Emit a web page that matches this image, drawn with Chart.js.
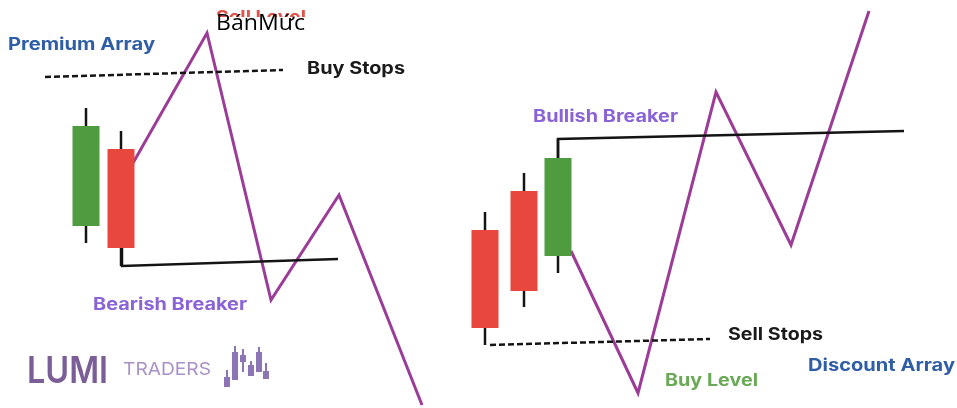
<!DOCTYPE html>
<html>
<head>
<meta charset="utf-8">
<script src="https://cdn.jsdelivr.net/npm/chart.js@4.4.0/dist/chart.umd.min.js"></script>
<style>
  html, body { margin: 0; padding: 0; background: #fff; }
  #chart { display: block; }
</style>
</head>
<body>
<canvas id="chart" width="957" height="408"></canvas>
<script>
// price path (x = time step, y = price)
const bearishPathX = [133, 207, 271, 339, 422];
const bearishPathY = [245, 375, 108, 213, 3];
const bullishPathX = [571, 638, 716, 791, 869];
const bullishPathY = [157, 15, 316, 163, 397];

// candles: x, open, high, low, close
const leftCandleX = [86, 121];
const leftOpen = [182, 259];
const leftHigh = [300, 277];
const leftLow = [165, 142];
const leftClose = [282, 160];

const rightCandleX = [485, 524, 558];
const rightOpen = [178, 217, 152];
const rightHigh = [196, 235, 269];
const rightLow = [63, 101, 135];
const rightClose = [80, 117, 250];

// breaker levels and stop levels
const bearishBreakerX = [122, 122, 338];
const bearishBreakerY = [160, 142, 149];
const bullishBreakerX = [558, 558, 904];
const bullishBreakerY = [250, 269, 277];
const buyStopsX = [45, 283];
const buyStopsY = [331, 338];
const sellStopsX = [490, 710];
const sellStopsY = [63, 69];

// logo candles
const logoX = [227, 235, 243, 251, 259, 266];
const logoOpen = [31, 56, 53, 43, 56, 37];
const logoHigh = [38, 62, 59, 47, 61, 45];
const logoLow = [21, 28, 36, 32, 36, 29];
const logoClose = [21, 28, 46, 32, 36, 29];

const PURPLE = '#9b3c97';
const GREEN = '#4f9b3f';
const RED = '#e8473d';
const LINE = '#141414';

function pts(xs, ys) { return xs.map((x, i) => ({ x: x, y: ys[i] })); }

function line(xs, ys, color, width, dash) {
  return {
    data: pts(xs, ys), borderColor: color, borderWidth: width,
    borderDash: dash || [], pointRadius: 0, tension: 0, fill: false,
    borderCapStyle: 'butt', borderJoinStyle: 'miter'
  };
}

function candleSets(xs, open, high, low, close, bodyW, wickW, wickColor, upColor, downColor, colorFor) {
  const sets = [];
  xs.forEach((x, i) => {
    const top = Math.max(open[i], close[i]);
    const bot = Math.min(open[i], close[i]);
    const col = colorFor ? colorFor : (close[i] >= open[i] ? upColor : downColor);
    if (high[i] > top) sets.push(line([x, x], [top, high[i]], wickColor, wickW));
    if (low[i] < bot) sets.push(line([x, x], [low[i], bot], wickColor, wickW));
    if (top > bot) sets.push(line([x, x], [bot, top], col, bodyW));
  });
  return sets;
}

const datasets = [].concat(
  [line(buyStopsX, buyStopsY, LINE, 2.5, [6, 3])],
  [line(sellStopsX, sellStopsY, LINE, 2.5, [6, 3])],
  [line(bearishBreakerX, bearishBreakerY, LINE, 2.5)],
  [line(bullishBreakerX, bullishBreakerY, LINE, 2.5)],
  candleSets(leftCandleX, leftOpen, leftHigh, leftLow, leftClose, 27, 2.5, LINE, GREEN, RED),
  candleSets(rightCandleX, rightOpen, rightHigh, rightLow, rightClose, 27, 2.5, LINE, GREEN, RED),
  candleSets(logoX, logoOpen, logoHigh, logoLow, logoClose, 6, 2, '#8d74b4', null, null, '#8d74b4'),
  [line(bearishPathX, bearishPathY, PURPLE, 3)],
  [line(bullishPathX, bullishPathY, PURPLE, 3)]
);

// text labels: text, left x, centre y, width, font, colour
const labels = [
  ['Premium Array', 8, 363, 147, '700 17px Inter', '#2f5ea7'],
  ['Buy Stops', 307, 339, 98, '700 17px Inter', '#1a1a1a'],
  ['Bearish Breaker', 93, 103, 154, '700 17px Inter', '#8a63d6'],
  ['Bullish Breaker', 533, 291, 145, '700 17px Inter', '#8a63d6'],
  ['Sell Stops', 728, 73, 95, '700 17px Inter', '#1a1a1a'],
  ['Buy Level', 665, 27, 93, '700 17px Inter', '#6aa956'],
  ['Discount Array', 808, 42, 147, '700 17px Inter', '#2f5ea7'],
  ['LUMI', 27, 36, 81, '600 37px Inter', '#7b5d97'],
  ['TRADERS', 123, 38, 88, '400 17px Inter', '#a891c6']
];

const labelPlugin = {
  id: 'labels',
  afterDatasetsDraw(chart) {
    const ctx = chart.ctx;
    const xs = chart.scales.x, ys = chart.scales.y;
    function draw(text, x, y, w, font, color) {
      ctx.save();
      ctx.font = font;
      ctx.fillStyle = color;
      ctx.textBaseline = 'middle';
      const m = ctx.measureText(text).width;
      const px = xs.getPixelForValue(x), py = ys.getPixelForValue(y);
      ctx.translate(px, py);
      ctx.scale(w / m, 1);
      ctx.fillText(text, 0, 0);
      ctx.restore();
    }
    labels.forEach(l => draw.apply(null, l));
    // sell level label, half covered by the translated caption
    draw('Sell Level', 216, 390, 90, '700 18px Inter', '#e0524a');
    ctx.save();
    ctx.fillStyle = '#fff';
    const bx = xs.getPixelForValue(213), by = ys.getPixelForValue(391);
    ctx.fillRect(bx, by, xs.getPixelForValue(309) - bx, ys.getPixelForValue(371) - by);
    ctx.restore();
    draw('BánMức', 216, 384, 89, '400 22px "Open Sans"', '#000');
  }
};

new Chart(document.getElementById('chart').getContext('2d'), {
  type: 'line',
  data: { datasets: datasets },
  options: {
    responsive: false,
    animation: false,
    layout: { padding: 0 },
    plugins: { legend: { display: false }, tooltip: { enabled: false } },
    scales: {
      x: { type: 'linear', min: 0, max: 957, display: false },
      y: { type: 'linear', min: 0, max: 408, display: false }
    }
  },
  plugins: [labelPlugin]
});
</script>
</body>
</html>
